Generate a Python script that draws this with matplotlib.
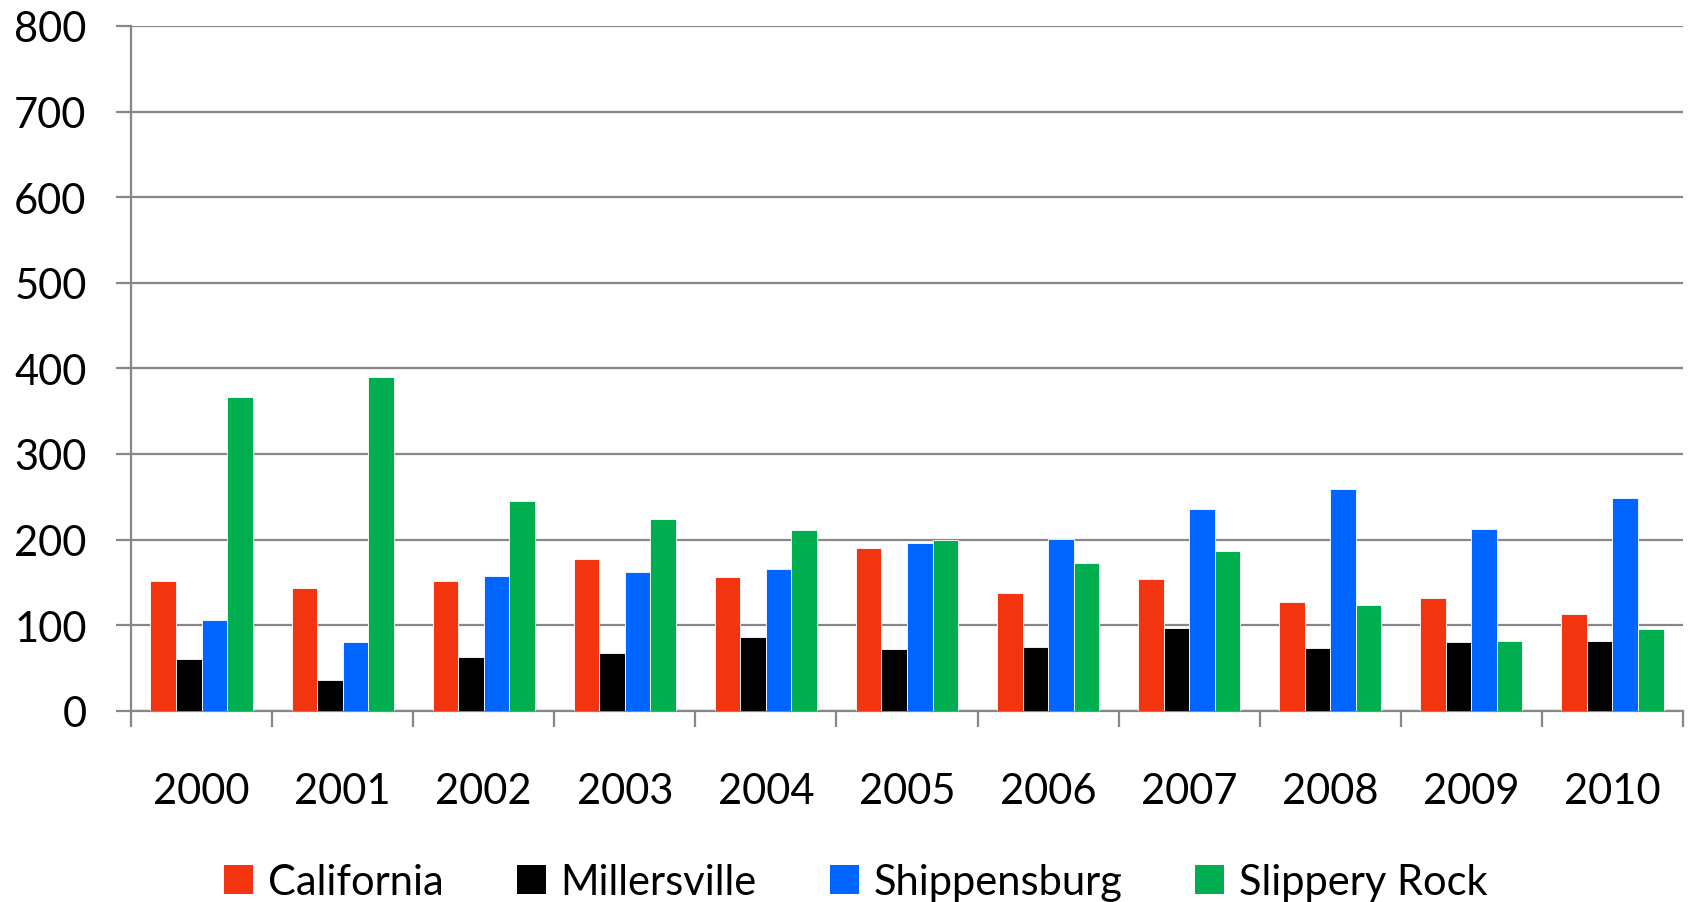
import matplotlib
matplotlib.use("Agg")
import matplotlib.pyplot as plt
from matplotlib.patches import Patch
import numpy as np

years = ["2000", "2001", "2002", "2003", "2004", "2005",
         "2006", "2007", "2008", "2009", "2010"]
california = [152, 143, 151, 177, 156, 190, 138, 154, 127, 132, 113]
millersville = [60, 36, 63, 67, 86, 72, 74, 97, 73, 80, 81]
shippensburg = [106, 80, 157, 162, 165, 196, 201, 236, 259, 212, 248]
slippery_rock = [367, 390, 245, 224, 211, 199, 172, 187, 124, 82, 96]

series_names = ["California", "Millersville", "Shippensburg", "Slippery Rock"]
series_values = [california, millersville, shippensburg, slippery_rock]
series_colors = ["#F33411", "#000000", "#0066FF", "#00AE4F"]

plt.rcParams["font.family"] = ["Lato", "DejaVu Sans"]
FS = 30
GRID = "#878787"

fig = plt.figure(figsize=(16.88, 9.03), dpi=100)
ax = fig.add_axes([131 / 1688, 1 - 711.7 / 903, (1683 - 131) / 1688, (711.7 - 27) / 903])

x = np.arange(len(years))
bw = 0.181
for i, (name, vals, col) in enumerate(zip(series_names, series_values, series_colors)):
    ax.bar(x + (i - 1.5) * bw, vals, width=bw, color=col, edgecolor="white",
           linewidth=0.6, label=name, zorder=3)

ax.set_xlim(-0.5, len(years) - 0.5)
ax.set_ylim(0, 800)
ax.set_yticks(range(0, 801, 100))
ax.yaxis.grid(True, color=GRID, linewidth=1.6, zorder=0)
ax.set_axisbelow(True)

# category boundaries carry the tick marks, labels sit at the centres
ax.set_xticks(np.arange(-0.5, len(years), 1.0))
ax.set_xticklabels([])
ax.set_xticks(x, minor=True)
ax.set_xticklabels(years, minor=True)
ax.tick_params(axis="x", which="major", length=11.5, width=1.6, color=GRID, direction="out")
ax.tick_params(axis="x", which="minor", length=0, pad=44, labelsize=FS)
ax.tick_params(axis="y", length=11, width=1.6, color=GRID, pad=21, labelsize=FS)

for side in ("top", "right"):
    ax.spines[side].set_visible(False)
for side in ("left", "bottom"):
    ax.spines[side].set_color(GRID)
    ax.spines[side].set_linewidth(1.6)

handles = [Patch(facecolor=c, edgecolor="none") for c in series_colors]
fig.legend(handles, series_names, loc="center", bbox_to_anchor=(0.507, 0.022),
           ncol=4, frameon=False, fontsize=FS, handlelength=0.7, handleheight=0.7,
           handletextpad=0.35, columnspacing=1.75, borderaxespad=0)

fig.savefig("out.png", dpi=100, facecolor="white")
